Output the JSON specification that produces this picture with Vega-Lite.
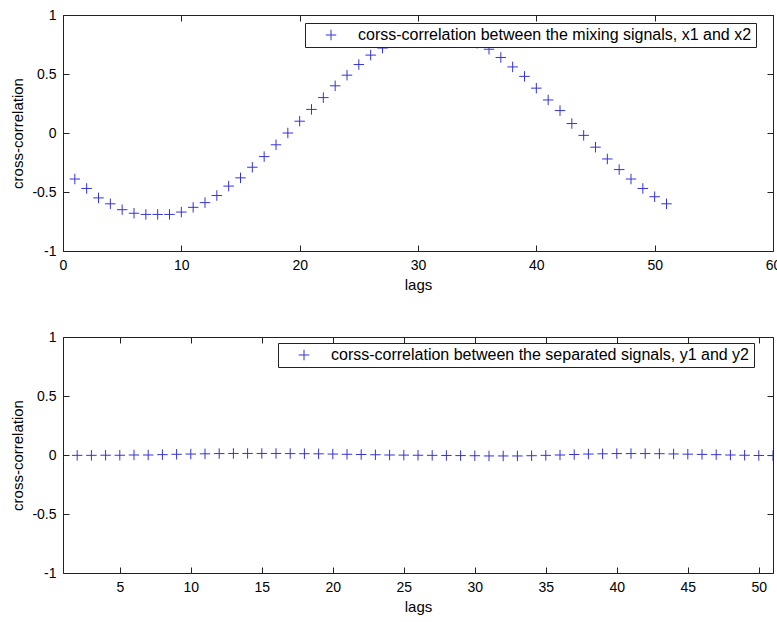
{
  "$schema": "https://vega.github.io/schema/vega-lite/v6.json",
  "padding": {"left": 10, "top": 7, "right": 0, "bottom": 0},
  "background": "#ffffff",
  "config": {
    "font": "Liberation Sans",
    "view": {"stroke": "#222222", "strokeWidth": 1},
    "axis": {
      "grid": false, "domain": false, "tickSize": -6, "tickColor": "#222222", "tickWidth": 1,
      "labelColor": "#000000", "labelFontSize": 14, "labelFont": "Liberation Sans", "labelPadding": 13,
      "labelFlush": false, "labelOverlap": false, "labelBound": false,
      "titleFontSize": 15, "titleFontWeight": "normal", "titleColor": "#000000", "titleFont": "Liberation Sans"
    },
    "legend": {
      "orient": "none", "title": null, "fillColor": "#ffffff", "strokeColor": "#222222", "padding": 4,
      "labelFontSize": 16, "labelFont": "Liberation Sans", "labelColor": "#000000",
      "symbolSize": 110, "symbolStrokeWidth": 1, "symbolType": "M-1,0H1M0,-1V1",
      "symbolOffset": 14, "labelOffset": 19, "cornerRadius": 0, "labelLimit": 0
    }
  },
  "datasets": {
    "mix": [
      {"lag": 1, "xc": -0.39}, {"lag": 2, "xc": -0.47}, {"lag": 3, "xc": -0.55}, {"lag": 4, "xc": -0.60},
      {"lag": 5, "xc": -0.65}, {"lag": 6, "xc": -0.68}, {"lag": 7, "xc": -0.69}, {"lag": 8, "xc": -0.69},
      {"lag": 9, "xc": -0.69}, {"lag": 10, "xc": -0.67}, {"lag": 11, "xc": -0.63}, {"lag": 12, "xc": -0.59},
      {"lag": 13, "xc": -0.53}, {"lag": 14, "xc": -0.45}, {"lag": 15, "xc": -0.38}, {"lag": 16, "xc": -0.29},
      {"lag": 17, "xc": -0.20}, {"lag": 18, "xc": -0.10}, {"lag": 19, "xc": 0.00}, {"lag": 20, "xc": 0.10},
      {"lag": 21, "xc": 0.20}, {"lag": 22, "xc": 0.30}, {"lag": 23, "xc": 0.40}, {"lag": 24, "xc": 0.49},
      {"lag": 25, "xc": 0.58}, {"lag": 26, "xc": 0.66}, {"lag": 27, "xc": 0.72}, {"lag": 28, "xc": 0.77},
      {"lag": 29, "xc": 0.81}, {"lag": 30, "xc": 0.84}, {"lag": 31, "xc": 0.85}, {"lag": 32, "xc": 0.85},
      {"lag": 33, "xc": 0.83}, {"lag": 34, "xc": 0.80}, {"lag": 35, "xc": 0.76}, {"lag": 36, "xc": 0.71},
      {"lag": 37, "xc": 0.64}, {"lag": 38, "xc": 0.56}, {"lag": 39, "xc": 0.48}, {"lag": 40, "xc": 0.38},
      {"lag": 41, "xc": 0.28}, {"lag": 42, "xc": 0.19}, {"lag": 43, "xc": 0.08}, {"lag": 44, "xc": -0.02},
      {"lag": 45, "xc": -0.12}, {"lag": 46, "xc": -0.22}, {"lag": 47, "xc": -0.31}, {"lag": 48, "xc": -0.39},
      {"lag": 49, "xc": -0.47}, {"lag": 50, "xc": -0.54}, {"lag": 51, "xc": -0.60}
    ],
    "sep": [
      {"lag": 2, "xc": -0.003}, {"lag": 3, "xc": -0.003}, {"lag": 4, "xc": -0.002}, {"lag": 5, "xc": -0.002},
      {"lag": 6, "xc": 0.0}, {"lag": 7, "xc": 0.0}, {"lag": 8, "xc": 0.003}, {"lag": 9, "xc": 0.006},
      {"lag": 10, "xc": 0.008}, {"lag": 11, "xc": 0.010}, {"lag": 12, "xc": 0.012}, {"lag": 13, "xc": 0.013},
      {"lag": 14, "xc": 0.013}, {"lag": 15, "xc": 0.013}, {"lag": 16, "xc": 0.013}, {"lag": 17, "xc": 0.012},
      {"lag": 18, "xc": 0.011}, {"lag": 19, "xc": 0.010}, {"lag": 20, "xc": 0.008}, {"lag": 21, "xc": 0.006},
      {"lag": 22, "xc": 0.004}, {"lag": 23, "xc": 0.002}, {"lag": 24, "xc": 0.0}, {"lag": 25, "xc": -0.001},
      {"lag": 26, "xc": -0.002}, {"lag": 27, "xc": -0.003}, {"lag": 28, "xc": -0.004}, {"lag": 29, "xc": -0.005},
      {"lag": 30, "xc": -0.006}, {"lag": 31, "xc": -0.008}, {"lag": 32, "xc": -0.008}, {"lag": 33, "xc": -0.008},
      {"lag": 34, "xc": -0.006}, {"lag": 35, "xc": -0.003}, {"lag": 36, "xc": 0.0}, {"lag": 37, "xc": 0.004},
      {"lag": 38, "xc": 0.008}, {"lag": 39, "xc": 0.010}, {"lag": 40, "xc": 0.012}, {"lag": 41, "xc": 0.012},
      {"lag": 42, "xc": 0.012}, {"lag": 43, "xc": 0.011}, {"lag": 44, "xc": 0.009}, {"lag": 45, "xc": 0.007},
      {"lag": 46, "xc": 0.005}, {"lag": 47, "xc": 0.003}, {"lag": 48, "xc": 0.0}, {"lag": 49, "xc": -0.002},
      {"lag": 50, "xc": -0.004}, {"lag": 51, "xc": -0.005}
    ]
  },
  "spacing": 36,
  "resolve": {"scale": {"color": "independent"}},
  "vconcat": [
    {
      "width": 710, "height": 236,
      "data": {"name": "mix"},
      "transform": [{"calculate": "'corss-correlation between the mixing signals, x1 and x2'", "as": "series"}],
      "resolve": {"axis": {"x": "independent", "y": "independent"}},
      "layer": [
        {
          "mark": {"type": "point", "shape": "M-1,0H1M0,-1V1", "filled": false, "strokeWidth": 1, "size": 110, "opacity": 1},
          "encoding": {
            "x": {"field": "lag", "type": "quantitative", "scale": {"domain": [0, 60], "nice": false},
                  "axis": {"title": "lags", "values": [0, 10, 20, 30, 40, 50, 60], "labelExpr": "''+datum.value", "titlePadding": 5}},
            "y": {"field": "xc", "type": "quantitative", "scale": {"domain": [-1, 1], "nice": false},
                  "axis": {"title": "cross-correlation", "values": [-1, -0.5, 0, 0.5, 1], "labelExpr": "''+datum.value", "titlePadding": 6}},
            "color": {"field": "series", "type": "nominal", "scale": {"range": ["#3434d6"]},
                      "legend": {"legendX": 242, "legendY": 8}}
          }
        },
        {
          "mark": {"type": "point", "opacity": 0},
          "encoding": {
            "x": {"field": "lag", "type": "quantitative", "axis": {"orient": "top", "labels": false, "title": null, "values": [0, 10, 20, 30, 40, 50, 60]}},
            "y": {"field": "xc", "type": "quantitative", "axis": {"orient": "right", "labels": false, "title": null, "values": [-1, -0.5, 0, 0.5, 1]}}
          }
        }
      ]
    },
    {
      "width": 710, "height": 236,
      "data": {"name": "sep"},
      "transform": [{"calculate": "'corss-correlation between the separated signals, y1 and y2'", "as": "series"}],
      "resolve": {"axis": {"x": "independent", "y": "independent"}},
      "layer": [
        {
          "mark": {"type": "point", "shape": "M-1,0H1M0,-1V1", "filled": false, "strokeWidth": 1, "size": 110, "opacity": 1, "clip": true},
          "encoding": {
            "x": {"field": "lag", "type": "quantitative", "scale": {"domain": [1, 51], "nice": false},
                  "axis": {"title": "lags", "values": [5, 10, 15, 20, 25, 30, 35, 40, 45, 50], "labelExpr": "''+datum.value", "titlePadding": 5}},
            "y": {"field": "xc", "type": "quantitative", "scale": {"domain": [-1, 1], "nice": false},
                  "axis": {"title": "cross-correlation", "values": [-1, -0.5, 0, 0.5, 1], "labelExpr": "''+datum.value", "titlePadding": 6}},
            "color": {"field": "series", "type": "nominal", "scale": {"range": ["#3434d6"]},
                      "legend": {"legendX": 215, "legendY": 6}}
          }
        },
        {
          "mark": {"type": "point", "opacity": 0},
          "encoding": {
            "x": {"field": "lag", "type": "quantitative", "axis": {"orient": "top", "labels": false, "title": null, "values": [5, 10, 15, 20, 25, 30, 35, 40, 45, 50]}},
            "y": {"field": "xc", "type": "quantitative", "axis": {"orient": "right", "labels": false, "title": null, "values": [-1, -0.5, 0, 0.5, 1]}}
          }
        }
      ]
    }
  ]
}
